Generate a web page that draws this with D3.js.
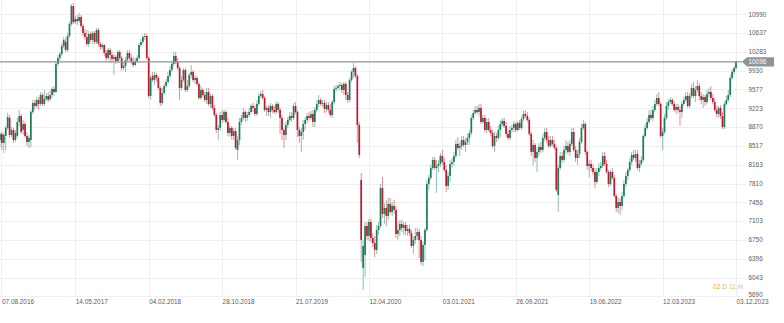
<!DOCTYPE html>
<html>
<head>
<meta charset="utf-8">
<script src="https://cdn.jsdelivr.net/npm/d3@7"></script>
<style>
  html, body { margin: 0; padding: 0; background: #ffffff; }
  svg { display: block; font-family: "Liberation Sans", Arial, sans-serif; }
</style>
</head>
<body>
<svg id="chart" width="784" height="323"></svg>
<script>
// Weekly candles, first and last week start (Sundays)
const firstWeek = "2016-08-07";
const lastWeek = "2023-12-03";

const open = [
  8703, 8628, 8741, 8572, 8703, 8854, 9042, 8722, 8816, 8628,
  8703, 8966, 9079, 8816, 8929, 8703, 8590, 8628, 9154, 9324,
  9267, 9380, 9305, 9474, 9305, 9399, 9455, 9399, 9474, 9587,
  9530, 10057, 10170, 10245, 10394, 10470, 10320, 10582, 10808, 11146,
  10845, 10902, 10864, 10939, 10770, 10639, 10563, 10432, 10620, 10507,
  10639, 10470, 10695, 10432, 10375, 10413, 10263, 10170, 10320, 10226,
  10151, 10188, 10113, 10282, 10170, 9981, 10019, 10132, 10263, 10170,
  10094, 10038, 10113, 10170, 10413, 10470, 10563, 10582, 10170, 9455,
  9831, 9756, 9850, 9793, 9606, 9324, 9512, 9643, 9718, 9831,
  9944, 10057, 10207, 10094, 9981, 9606, 9756, 9944, 9568, 9643,
  9850, 9906, 9756, 9793, 9681, 9418, 9568, 9474, 9380, 9530,
  9305, 9455, 9230, 9098, 8816, 8854, 9098, 9004, 9154, 8966,
  8760, 8854, 8703, 8797, 8441, 8628, 8966, 9042, 9154, 9042,
  9098, 9154, 9267, 9230, 9117, 9305, 9455, 9493, 9418, 9192,
  9230, 9154, 9267, 9192, 9154, 9305, 9192, 9042, 8816, 8722,
  8910, 9004, 9079, 9042, 9267, 9154, 8816, 8703, 8778, 8929,
  9004, 9079, 9042, 9117, 8966, 9192, 9305, 9380, 9305, 9324,
  9211, 9286, 9192, 9098, 9342, 9587, 9606, 9643, 9662, 9568,
  9681, 9474, 9380, 9756, 9906, 9981, 9831, 8910, 7877, 6224,
  6468, 7012, 6824, 7087, 6787, 6693, 6562, 6937, 7012, 7726,
  7238, 7351, 7200, 7426, 7275, 7388, 7313, 6862, 6937, 7050,
  6975, 7031, 6918, 6956, 6880, 6637, 6749, 6824, 6899, 6749,
  6336, 6655, 6937, 7801, 7914, 8102, 8253, 8102, 8140, 8178,
  8328, 8215, 8065, 7764, 7952, 8178, 8215, 8328, 8553, 8478,
  8515, 8628, 8534, 8590, 8666, 8760, 9042, 9136, 9192, 9154,
  9230, 8966, 9042, 8816, 8966, 8816, 8760, 8515, 8703, 8666,
  8816, 8929, 8985, 8891, 8741, 8666, 8816, 8854, 8929, 8816,
  8948, 8854, 9023, 9117, 9079, 9004, 8741, 8403, 8534, 8290,
  8403, 8496, 8441, 8666, 8778, 8628, 8515, 8628, 8553, 8478,
  7595, 8102, 8328, 8253, 8441, 8515, 8403, 8553, 8778, 8441,
  8290, 8365, 8590, 8854, 8929, 8403, 8140, 8178, 8102, 8027,
  7839, 8027, 8102, 8140, 8328, 8178, 8027, 7801, 8027, 7914,
  7576, 7351, 7463, 7388, 7576, 7801, 7952, 8065, 8215, 8346,
  8290, 8365, 8102, 8178, 8253, 8703, 8854, 8966, 9098, 9042,
  9192, 9305, 9418, 9305, 8703, 8778, 9042, 9267, 9342, 9380,
  9305, 9192, 9248, 9192, 9154, 9305, 9380, 9455, 9267, 9455,
  9606, 9455, 9568, 9643, 9455, 9380, 9436, 9342, 9493, 9530,
  9418, 9342, 9192, 9117, 9230, 9079, 8872, 9305, 9380, 9474,
  9793, 9906, 9981
];

const high = [
  8760, 8778, 8778, 8760, 8891, 9136, 9098, 8872, 8854, 8816,
  9042, 9192, 9117, 9004, 8966, 8778, 8722, 9192, 9380, 9380,
  9436, 9436, 9530, 9512, 9568, 9512, 9530, 9568, 9624, 9643,
  10094, 10226, 10282, 10451, 10563, 10545, 10639, 10845, 11184, 11203,
  10958, 10977, 11015, 10977, 10808, 10714, 10695, 10676, 10657, 10676,
  10676, 10733, 10733, 10470, 10451, 10432, 10320, 10357, 10357, 10282,
  10245, 10226, 10320, 10320, 10207, 10094, 10188, 10320, 10320, 10245,
  10188, 10170, 10226, 10451, 10526, 10601, 10639, 10620, 10207, 9850,
  9906, 9906, 9887, 9831, 9643, 9606, 9681, 9775, 9906, 10019,
  10113, 10282, 10282, 10170, 10019, 9831, 9981, 9981, 9756, 9887,
  10038, 9944, 9850, 9831, 9718, 9643, 9606, 9530, 9606, 9606,
  9493, 9493, 9286, 9136, 8910, 9154, 9192, 9192, 9192, 9042,
  8891, 8891, 8854, 8854, 8703, 9042, 9098, 9230, 9192, 9154,
  9230, 9305, 9324, 9286, 9380, 9512, 9549, 9568, 9455, 9267,
  9286, 9324, 9305, 9267, 9361, 9342, 9230, 9098, 8854, 8966,
  9060, 9154, 9154, 9324, 9342, 9192, 8872, 8854, 9004, 9060,
  9136, 9154, 9173, 9192, 9248, 9380, 9474, 9418, 9380, 9380,
  9342, 9342, 9305, 9380, 9643, 9662, 9681, 9718, 9700, 9718,
  9718, 9530, 9793, 9944, 10076, 10019, 9868, 8966, 8008, 6749,
  7087, 7087, 7144, 7144, 6880, 6824, 7031, 7087, 7801, 7933,
  7445, 7501, 7538, 7538, 7463, 7501, 7388, 7087, 7125, 7125,
  7087, 7087, 7031, 7031, 6937, 6824, 6975, 6975, 6956, 6824,
  6712, 6975, 7877, 7971, 8159, 8309, 8309, 8253, 8253, 8385,
  8441, 8290, 8159, 8027, 8253, 8290, 8403, 8628, 8684, 8590,
  8703, 8703, 8666, 8741, 8816, 9098, 9192, 9267, 9267, 9305,
  9305, 9098, 9098, 9042, 9042, 8891, 8816, 8778, 8760, 8891,
  9004, 9042, 9042, 8966, 8816, 8891, 8910, 8985, 8966, 8985,
  9004, 9079, 9173, 9192, 9154, 9042, 8778, 8628, 8572, 8478,
  8572, 8590, 8741, 8854, 8854, 8703, 8703, 8703, 8628, 8515,
  8159, 8403, 8403, 8515, 8628, 8590, 8628, 8854, 8854, 8515,
  8441, 8666, 8929, 9004, 8966, 8441, 8253, 8253, 8178, 8102,
  8102, 8196, 8215, 8403, 8403, 8253, 8065, 8065, 8102, 7971,
  7614, 7538, 7538, 7651, 7877, 8027, 8102, 8290, 8403, 8441,
  8441, 8441, 8253, 8328, 8741, 8929, 9042, 9192, 9192, 9267,
  9380, 9493, 9530, 9342, 8854, 9117, 9342, 9399, 9436, 9418,
  9361, 9305, 9305, 9267, 9361, 9436, 9530, 9530, 9512, 9681,
  9718, 9643, 9756, 9700, 9530, 9493, 9474, 9568, 9606, 9643,
  9493, 9418, 9267, 9267, 9286, 9154, 9342, 9455, 9568, 9850,
  9963, 10019, 10113
];

const low = [
  8515, 8496, 8441, 8385, 8441, 8816, 8666, 8684, 8572, 8590,
  8666, 8891, 8741, 8722, 8666, 8515, 8478, 8496, 9117, 9192,
  9230, 9192, 9267, 9267, 9267, 9361, 9342, 9361, 9418, 9455,
  9512, 10019, 10113, 10207, 10357, 10282, 10282, 10545, 10770, 10808,
  10808, 10789, 10827, 10733, 10582, 10507, 10394, 10375, 10470, 10432,
  10432, 10432, 10394, 10320, 10320, 10207, 10113, 10132, 10076, 10094,
  9850, 10057, 10076, 10132, 9925, 9944, 9906, 10094, 10132, 10057,
  10000, 10019, 10076, 10132, 10375, 10432, 10507, 10132, 9418, 9380,
  9718, 9662, 9718, 9568, 9267, 9286, 9474, 9606, 9681, 9793,
  9906, 10019, 10057, 9944, 9380, 9568, 9718, 9530, 9530, 9606,
  9793, 9718, 9681, 9643, 9380, 9380, 9436, 9342, 9305, 9267,
  9230, 9192, 9060, 8760, 8628, 8797, 8948, 8966, 8929, 8703,
  8684, 8628, 8628, 8441, 8253, 8534, 8910, 9004, 8966, 8985,
  9060, 9117, 9154, 9079, 9079, 9267, 9418, 9380, 9154, 9079,
  9079, 9042, 9136, 9117, 9117, 9136, 8741, 8628, 8478, 8628,
  8854, 8966, 8966, 9004, 9117, 8684, 8572, 8403, 8628, 8816,
  8948, 8985, 9004, 8872, 8872, 9154, 9248, 9267, 9248, 9136,
  9154, 9136, 9060, 9042, 9305, 9530, 9568, 9568, 9512, 9474,
  9380, 9324, 9342, 9718, 9793, 9793, 8572, 8290, 6336, 5810,
  6055, 6749, 6730, 6711, 6618, 6430, 6487, 6843, 6975, 7163,
  7050, 7012, 7125, 7238, 7200, 7238, 6787, 6749, 6824, 6899,
  6843, 6843, 6824, 6824, 6599, 6487, 6674, 6749, 6411, 6280,
  6261, 6374, 6899, 7689, 7877, 8065, 8065, 7633, 8027, 8121,
  8159, 8027, 7651, 7689, 7839, 8102, 8140, 8290, 8441, 8328,
  8441, 8496, 8403, 8534, 8534, 8722, 9004, 9098, 9117, 9079,
  8929, 8929, 8778, 8760, 8778, 8703, 8478, 8403, 8590, 8628,
  8684, 8872, 8854, 8684, 8628, 8628, 8760, 8778, 8778, 8797,
  8816, 8816, 8985, 9042, 8966, 8703, 8328, 8159, 8215, 8027,
  8328, 8385, 8403, 8609, 8572, 8478, 8478, 8515, 8441, 7651,
  7275, 8065, 8196, 8215, 8365, 8365, 8328, 8515, 8403, 8215,
  8159, 8290, 8553, 8816, 8346, 8065, 7933, 8046, 7971, 7726,
  7801, 7952, 8046, 8102, 8140, 7990, 7745, 7764, 7877, 7538,
  7275, 7257, 7219, 7313, 7538, 7745, 7877, 8027, 8159, 8253,
  8215, 8065, 8027, 8140, 8215, 8666, 8816, 8929, 9004, 8985,
  9154, 9267, 9267, 8666, 8441, 8741, 9004, 9192, 9305, 9267,
  9154, 9117, 9136, 8891, 9042, 9267, 9342, 9230, 9230, 9418,
  9418, 9342, 9530, 9380, 9305, 9230, 9267, 9305, 9436, 9380,
  9305, 9154, 9060, 9042, 9023, 8835, 8835, 9267, 9342, 9436,
  9756, 9868, 9944
];

const close = [
  8628, 8741, 8572, 8722, 8854, 9060, 8722, 8816, 8628, 8760,
  8966, 9079, 8778, 8929, 8703, 8590, 8666, 9154, 9324, 9267,
  9380, 9305, 9474, 9305, 9399, 9455, 9380, 9474, 9587, 9530,
  10057, 10170, 10245, 10394, 10507, 10320, 10582, 10808, 11146, 10845,
  10902, 10864, 10939, 10770, 10639, 10563, 10432, 10620, 10507, 10639,
  10470, 10695, 10432, 10375, 10413, 10263, 10170, 10320, 10226, 10151,
  10188, 10113, 10282, 10170, 9981, 10019, 10132, 10263, 10170, 10094,
  10038, 10113, 10170, 10413, 10470, 10563, 10582, 10170, 9455, 9793,
  9756, 9850, 9793, 9606, 9324, 9512, 9643, 9718, 9831, 9944,
  10057, 10207, 10094, 9981, 9606, 9756, 9944, 9568, 9643, 9850,
  9906, 9756, 9793, 9681, 9418, 9568, 9474, 9380, 9530, 9305,
  9455, 9230, 9098, 8816, 8854, 9098, 9004, 9154, 8966, 8760,
  8854, 8703, 8797, 8478, 8628, 8966, 9042, 9154, 9042, 9098,
  9154, 9267, 9230, 9117, 9305, 9455, 9493, 9418, 9192, 9230,
  9154, 9267, 9192, 9154, 9305, 9192, 9042, 8816, 8722, 8910,
  9004, 9079, 9042, 9267, 9154, 8816, 8703, 8778, 8929, 9004,
  9079, 9042, 9117, 8966, 9192, 9305, 9380, 9305, 9324, 9211,
  9286, 9192, 9098, 9342, 9587, 9606, 9643, 9662, 9568, 9681,
  9474, 9380, 9756, 9906, 9981, 9831, 8910, 8346, 6749, 6637,
  7012, 6824, 7087, 6787, 6693, 6562, 6937, 7012, 7726, 7238,
  7351, 7200, 7426, 7275, 7388, 7313, 6862, 6937, 7050, 6975,
  7031, 6918, 6956, 6880, 6637, 6749, 6824, 6899, 6749, 6336,
  6655, 6937, 7801, 7914, 8102, 8253, 8102, 8140, 8178, 8328,
  8215, 8065, 7764, 7952, 8178, 8215, 8328, 8553, 8478, 8515,
  8628, 8534, 8590, 8666, 8760, 9042, 9136, 9192, 9154, 9230,
  8966, 9042, 8816, 8966, 8816, 8760, 8515, 8703, 8666, 8816,
  8929, 8985, 8891, 8741, 8666, 8816, 8854, 8929, 8816, 8948,
  8854, 9023, 9117, 9079, 9004, 8741, 8403, 8534, 8290, 8403,
  8496, 8441, 8666, 8778, 8628, 8515, 8628, 8553, 8478, 7689,
  8102, 8328, 8253, 8441, 8515, 8403, 8553, 8778, 8441, 8290,
  8365, 8590, 8854, 8929, 8403, 8140, 8178, 8102, 8027, 7839,
  8027, 8102, 8140, 8328, 8178, 8027, 7801, 8027, 7914, 7576,
  7351, 7463, 7388, 7576, 7801, 7952, 8065, 8215, 8346, 8290,
  8365, 8102, 8178, 8253, 8703, 8854, 8966, 9098, 9042, 9192,
  9305, 9418, 9305, 8703, 8778, 9042, 9267, 9342, 9380, 9305,
  9192, 9248, 9192, 9154, 9305, 9380, 9455, 9267, 9455, 9606,
  9455, 9568, 9643, 9455, 9380, 9436, 9342, 9493, 9530, 9418,
  9342, 9192, 9117, 9230, 9079, 8872, 9305, 9380, 9474, 9793,
  9906, 9981, 10096
];

// Axis labels
const priceTicks = [5690, 6043, 6396, 6750, 7103, 7456, 7810, 8163, 8517, 8870, 9223, 9577, 9930, 10283, 10637, 10990];
const dateTicks = ["07.08.2016", "14.05.2017", "04.02.2018", "28.10.2018", "21.07.2019", "12.04.2020",
                   "03.01.2021", "26.09.2021", "19.06.2022", "12.03.2023", "03.12.2023"];
const lastPrice = 10096;
const countdown = [["02", "num"], ["D", "unit"], ["11", "num"], ["H", "unit"]];

// Layout and styling
const upColor = "#1a7f57";
const downColor = "#bb1a2f";
const gridColor = "#efefef";
const labelColor = "#5c5c5c";
const lineColor = "#8b959a";
const fontSize = 6.4;

const svg = d3.select("#chart");
const parseDay = d3.utcParse("%Y-%m-%d");
const parseLabel = d3.utcParse("%d.%m.%Y");

const weeks = d3.utcWeek.range(parseDay(firstWeek), d3.utcDay.offset(parseDay(lastWeek), 1));
const candles = weeks.map((d, i) => ({ date: d, o: open[i], h: high[i], l: low[i], c: close[i] }));

const x = d3.scaleUtc()
  .domain([parseDay(firstWeek), parseDay(lastWeek)])
  .range([-2, 736]);
const y = d3.scaleLinear()
  .domain([5690, 10990])
  .range([296.3, 14.3]);

const plotRight = 746;
const plotBottom = 296.5;

// Grid
const grid = svg.append("g");
grid.selectAll("line.h").data(priceTicks).join("line")
  .attr("x1", 0).attr("x2", plotRight)
  .attr("y1", d => Math.round(y(d)) + 0.5).attr("y2", d => Math.round(y(d)) + 0.5)
  .attr("stroke", gridColor).attr("stroke-width", 1);
grid.selectAll("line.v").data(dateTicks).join("line")
  .attr("x1", d => Math.max(1.5, Math.round(x(parseLabel(d))) + 0.5))
  .attr("x2", d => Math.max(1.5, Math.round(x(parseLabel(d))) + 0.5))
  .attr("y1", 0).attr("y2", plotBottom)
  .attr("stroke", gridColor).attr("stroke-width", 1);

// Candles
svg.append("clipPath").attr("id", "plotClip")
  .append("rect").attr("x", 0).attr("y", 0).attr("width", plotRight).attr("height", plotBottom);

const body = svg.append("g").attr("clip-path", "url(#plotClip)");
const colorOf = d => d.c >= d.o ? upColor : downColor;

body.selectAll("line.wick").data(candles).join("line")
  .attr("class", "wick")
  .attr("x1", d => x(d.date)).attr("x2", d => x(d.date))
  .attr("y1", d => y(d.h)).attr("y2", d => y(d.l))
  .attr("stroke", colorOf).attr("stroke-opacity", 0.6).attr("stroke-width", 0.8);

body.selectAll("rect.body").data(candles).join("rect")
  .attr("class", "body")
  .attr("x", d => x(d.date) - 0.85)
  .attr("width", 1.7)
  .attr("y", d => y(Math.max(d.o, d.c)))
  .attr("height", d => Math.max(0.8, Math.abs(y(d.o) - y(d.c))))
  .attr("fill", colorOf);

// Last price line and tag
const yLast = y(lastPrice);
svg.append("line")
  .attr("x1", 0).attr("x2", 742)
  .attr("y1", yLast).attr("y2", yLast)
  .attr("stroke", lineColor).attr("stroke-width", 1.2);

const tag = svg.append("g");
tag.append("path")
  .attr("d", `M742,${yLast} L747,${yLast - 4.6} L774,${yLast - 4.6} L774,${yLast + 4.6} L747,${yLast + 4.6} Z`)
  .attr("fill", lineColor);
tag.append("text")
  .attr("x", 748.5).attr("y", yLast + 2.3)
  .attr("fill", "#ffffff").attr("font-size", fontSize)
  .text(d3.format("d")(lastPrice));

// Price axis labels (the lowest one sits just above the date row)
svg.append("g").selectAll("text").data(priceTicks).join("text")
  .attr("x", 748.5).attr("y", (d, i) => y(d) + (i === 0 ? 0.6 : 2.3))
  .attr("fill", labelColor).attr("font-size", fontSize)
  .text(d => d);

// Date axis labels
svg.append("g").selectAll("text").data(dateTicks).join("text")
  .attr("x", d => Math.max(2, x(parseLabel(d)) + 0.5))
  .attr("y", 303.6)
  .attr("fill", labelColor).attr("font-size", fontSize)
  .text(d => d);

// Candle countdown
const cd = svg.append("text")
  .attr("x", 713).attr("y", 289.2)
  .attr("font-size", 6.6);
countdown.forEach(([t, kind], i) => {
  cd.append("tspan")
    .attr("dx", i === 0 ? 0 : 2)
    .attr("fill", kind === "num" ? (i === 0 ? "#f5a623" : "#f8bf63") : "#b3b3b3")
    .text(t);
});
</script>
</body>
</html>
